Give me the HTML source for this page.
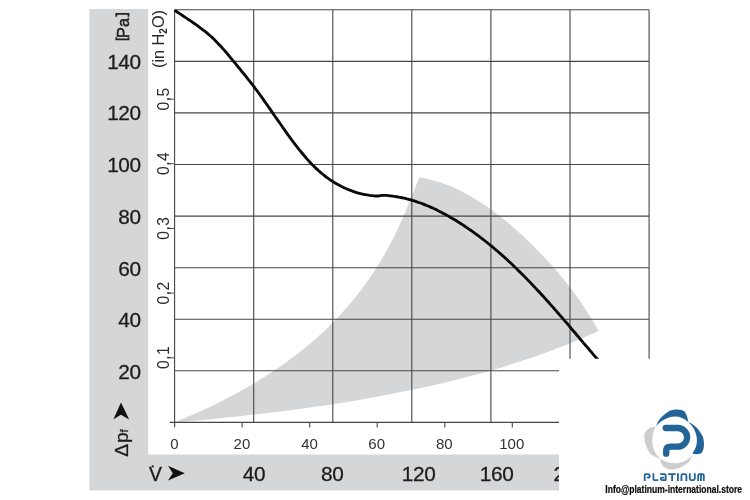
<!DOCTYPE html>
<html><head><meta charset="utf-8"><title>chart</title>
<style>
html,body{margin:0;padding:0;background:#fff;}
body{width:750px;height:500px;overflow:hidden;font-family:"Liberation Sans",sans-serif;}
svg{display:block;will-change:transform}
text{font-family:"Liberation Sans",sans-serif;}
</style></head><body>
<svg width="750" height="500" viewBox="0 0 750 500">
<rect width="750" height="500" fill="#fff"/>

<path d="M89.3,9.1 H148.2 V454.6 H559.0 V490.5 H89.3 Z" fill="#d5d6d8"/>
<path d="M174.8,422.4 C179.0,420.6 191.6,415.4 199.9,411.6 C208.3,407.8 216.6,403.8 224.8,399.6 C233.0,395.4 241.1,390.9 249.1,386.3 C257.1,381.6 265.0,376.7 272.7,371.6 C280.4,366.5 288.0,361.1 295.3,355.5 C302.6,349.9 309.7,344.1 316.6,338.0 C323.5,331.9 330.1,325.5 336.5,318.9 C342.8,312.3 348.9,305.4 354.6,298.3 C360.4,291.2 365.8,283.8 370.9,276.2 C376.1,268.6 380.9,260.8 385.4,252.8 C389.9,244.8 394.1,236.5 398.1,228.2 C402.0,219.9 405.6,211.3 409.1,202.8 C412.7,194.3 417.7,181.5 419.4,177.2 C421.7,177.7 428.8,179.1 433.4,180.4 C438.0,181.6 442.5,183.1 446.9,184.8 C451.3,186.5 455.6,188.4 459.8,190.5 C464.1,192.5 468.2,194.8 472.3,197.2 C476.4,199.5 480.4,202.1 484.3,204.8 C488.2,207.4 492.1,210.2 495.9,213.1 C499.7,216.0 503.4,219.0 507.1,222.1 C510.8,225.1 514.4,228.3 518.0,231.5 C521.5,234.7 525.1,237.9 528.5,241.3 C532.0,244.6 535.4,248.0 538.7,251.4 C542.1,254.8 545.4,258.3 548.6,261.8 C551.8,265.3 555.0,268.9 558.1,272.6 C561.2,276.2 564.2,279.9 567.1,283.7 C570.1,287.4 572.9,291.2 575.7,295.0 C578.5,298.9 581.2,302.8 583.9,306.7 C586.5,310.7 589.0,314.7 591.5,318.7 C593.9,322.8 597.4,329.0 598.6,331.0 C593.5,333.2 578.2,340.1 567.8,344.2 C557.4,348.4 547.0,352.3 536.5,356.0 C525.9,359.7 515.3,363.1 504.7,366.4 C494.0,369.6 483.3,372.7 472.5,375.5 C461.7,378.4 450.9,381.1 440.0,383.7 C429.1,386.2 418.2,388.6 407.2,390.8 C396.3,393.1 385.3,395.2 374.3,397.2 C363.3,399.2 352.3,401.1 341.2,402.9 C330.2,404.6 319.1,406.3 308.0,407.8 C296.9,409.4 285.8,410.8 274.7,412.2 C263.6,413.5 252.5,414.8 241.4,416.0 C230.3,417.2 219.2,418.3 208.1,419.4 C197.0,420.5 180.3,421.9 174.8,422.4Z" fill="#d5d6d8"/>
<path d="M174.6,9.8 V427.3 M253.7,9.8 V422.4 M332.8,9.8 V422.4 M411.8,9.8 V422.4 M490.9,9.8 V422.4 M570.0,9.8 V358.7 M649.1,9.8 V358.7 M174.6,9.8 H649.1 M174.6,61.4 H649.1 M174.6,112.9 H649.1 M174.6,164.5 H649.1 M174.6,216.1 H649.1 M174.6,267.7 H649.1 M174.6,319.2 H649.1 M174.6,370.8 H559.0 M169.6,422.4 H559.0 M242.1,422.4 V427.4 M309.7,422.4 V427.4 M377.2,422.4 V427.4 M444.8,422.4 V427.4 M512.3,422.4 V427.4" fill="none" stroke="#464646" stroke-width="1.1"/>
<path d="M167.4,357.8 H174.6 M167.4,293.1 H174.6 M167.4,228.5 H174.6 M167.4,163.8 H174.6 M167.4,99.2 H174.6" fill="none" stroke="#464646" stroke-width="0.9"/>
<text transform="translate(168.8,357.4) rotate(-90)" text-anchor="middle" letter-spacing="0.45" font-size="15.7" fill="#2a2a2a">0,1</text>
<text transform="translate(168.8,292.8) rotate(-90)" text-anchor="middle" letter-spacing="0.45" font-size="15.7" fill="#2a2a2a">0,2</text>
<text transform="translate(168.8,228.1) rotate(-90)" text-anchor="middle" letter-spacing="0.45" font-size="15.7" fill="#2a2a2a">0,3</text>
<text transform="translate(168.8,163.4) rotate(-90)" text-anchor="middle" letter-spacing="0.45" font-size="15.7" fill="#2a2a2a">0,4</text>
<text transform="translate(168.8,98.8) rotate(-90)" text-anchor="middle" letter-spacing="0.45" font-size="15.7" fill="#2a2a2a">0,5</text>
<clipPath id="cc"><rect x="0" y="0" width="750" height="358.7"/></clipPath>
<path clip-path="url(#cc)" d="M174.6,10.2 C175.2,10.6 176.9,11.7 178.0,12.5 C179.2,13.3 180.3,14.1 181.5,14.8 C182.6,15.6 183.8,16.4 184.9,17.1 C186.1,17.9 187.3,18.7 188.4,19.5 C189.6,20.3 190.7,21.0 191.9,21.8 C193.0,22.6 194.2,23.4 195.3,24.2 C196.4,25.0 197.6,25.8 198.7,26.7 C199.8,27.5 200.9,28.3 202.0,29.2 C203.2,30.0 204.2,30.9 205.3,31.7 C206.4,32.6 207.5,33.5 208.5,34.4 C209.6,35.3 210.6,36.2 211.7,37.1 C212.7,38.1 213.7,39.0 214.7,40.0 C215.7,41.0 216.6,41.9 217.6,42.9 C218.6,43.9 219.5,44.9 220.5,46.0 C221.4,47.0 222.3,48.0 223.2,49.1 C224.2,50.1 225.1,51.2 226.0,52.2 C226.9,53.3 227.8,54.3 228.7,55.4 C229.5,56.5 230.4,57.5 231.3,58.6 C232.2,59.7 233.1,60.8 234.0,61.8 C234.9,62.9 235.7,64.0 236.6,65.0 C237.5,66.1 238.4,67.2 239.3,68.3 C240.2,69.3 241.0,70.4 241.9,71.5 C242.8,72.6 243.7,73.6 244.5,74.7 C245.4,75.8 246.3,76.9 247.2,78.0 C248.0,79.1 248.9,80.1 249.7,81.2 C250.6,82.3 251.4,83.4 252.3,84.5 C253.1,85.6 254.0,86.7 254.8,87.8 C255.6,88.9 256.5,90.1 257.3,91.2 C258.1,92.3 258.9,93.4 259.8,94.5 C260.6,95.7 261.4,96.8 262.2,97.9 C263.0,99.0 263.8,100.2 264.6,101.3 C265.4,102.4 266.2,103.6 267.0,104.7 C267.8,105.9 268.6,107.0 269.4,108.1 C270.2,109.3 271.0,110.4 271.8,111.6 C272.5,112.7 273.3,113.8 274.1,115.0 C274.9,116.1 275.7,117.3 276.5,118.4 C277.3,119.6 278.1,120.7 278.9,121.8 C279.7,123.0 280.5,124.1 281.3,125.3 C282.0,126.4 282.8,127.5 283.6,128.7 C284.4,129.8 285.2,130.9 286.1,132.1 C286.9,133.2 287.7,134.3 288.5,135.5 C289.3,136.6 290.1,137.7 290.9,138.8 C291.8,139.9 292.6,141.1 293.4,142.2 C294.3,143.3 295.1,144.4 296.0,145.5 C296.8,146.6 297.7,147.7 298.5,148.8 C299.4,149.9 300.2,150.9 301.1,152.0 C302.0,153.1 302.9,154.2 303.8,155.2 C304.7,156.3 305.6,157.3 306.5,158.4 C307.4,159.4 308.3,160.5 309.3,161.5 C310.2,162.5 311.2,163.5 312.1,164.5 C313.1,165.5 314.1,166.5 315.1,167.4 C316.1,168.4 317.1,169.3 318.1,170.3 C319.1,171.2 320.2,172.1 321.2,173.0 C322.3,173.9 323.4,174.8 324.5,175.6 C325.5,176.5 326.7,177.3 327.8,178.1 C328.9,178.9 330.1,179.7 331.2,180.5 C332.4,181.3 333.6,182.0 334.7,182.7 C335.9,183.4 337.1,184.1 338.4,184.8 C339.6,185.5 340.8,186.1 342.0,186.8 C343.3,187.4 344.5,188.0 345.8,188.5 C347.1,189.1 348.4,189.7 349.7,190.2 C351.0,190.7 352.3,191.2 353.6,191.6 C354.9,192.1 356.2,192.5 357.5,192.9 C358.9,193.3 360.2,193.6 361.6,193.9 C362.9,194.2 364.3,194.4 365.7,194.7 C367.0,194.9 368.4,195.1 369.8,195.3 C371.2,195.5 372.6,195.7 373.9,195.8 C375.3,195.9 376.7,196.0 378.1,196.0 C379.5,195.9 380.8,195.5 382.2,195.4 C383.6,195.3 385.0,195.3 386.4,195.4 C387.8,195.5 389.1,195.7 390.5,195.8 C391.9,196.0 393.3,196.2 394.6,196.4 C396.0,196.6 397.4,196.9 398.8,197.1 C400.1,197.4 401.5,197.6 402.8,197.9 C404.2,198.2 405.6,198.5 406.9,198.9 C408.2,199.2 409.6,199.6 410.9,199.9 C412.3,200.3 413.6,200.7 414.9,201.1 C416.2,201.6 417.6,202.0 418.9,202.5 C420.2,202.9 421.5,203.4 422.8,203.9 C424.1,204.4 425.4,204.9 426.7,205.5 C428.0,206.0 429.2,206.5 430.5,207.1 C431.8,207.7 433.1,208.2 434.3,208.8 C435.6,209.4 436.9,210.0 438.1,210.7 C439.4,211.3 440.6,211.9 441.8,212.6 C443.1,213.2 444.3,213.9 445.5,214.5 C446.8,215.2 448.0,215.9 449.2,216.6 C450.4,217.3 451.6,218.0 452.8,218.7 C454.0,219.4 455.2,220.1 456.4,220.8 C457.6,221.6 458.7,222.3 459.9,223.0 C461.1,223.8 462.3,224.5 463.4,225.3 C464.6,226.1 465.7,226.8 466.9,227.6 C468.0,228.4 469.2,229.2 470.3,230.0 C471.4,230.8 472.6,231.6 473.7,232.4 C474.8,233.2 475.9,234.0 477.1,234.8 C478.2,235.7 479.3,236.5 480.4,237.3 C481.5,238.2 482.6,239.0 483.7,239.9 C484.8,240.7 485.9,241.6 486.9,242.4 C488.0,243.3 489.1,244.2 490.2,245.1 C491.2,245.9 492.3,246.8 493.4,247.7 C494.4,248.6 495.5,249.5 496.5,250.4 C497.6,251.3 498.6,252.2 499.7,253.1 C500.7,254.0 501.7,254.9 502.8,255.9 C503.8,256.8 504.8,257.7 505.9,258.6 C506.9,259.6 507.9,260.5 508.9,261.4 C509.9,262.4 510.9,263.3 512.0,264.3 C513.0,265.2 514.0,266.2 515.0,267.2 C516.0,268.1 517.0,269.1 517.9,270.1 C518.9,271.0 519.9,272.0 520.9,273.0 C521.9,274.0 522.9,274.9 523.9,275.9 C524.8,276.9 525.8,277.9 526.8,278.9 C527.7,279.9 528.7,280.9 529.7,281.9 C530.6,282.9 531.6,283.9 532.6,284.9 C533.5,285.9 534.5,286.9 535.4,287.9 C536.4,288.9 537.3,290.0 538.3,291.0 C539.2,292.0 540.2,293.0 541.1,294.0 C542.0,295.1 543.0,296.1 543.9,297.1 C544.9,298.2 545.8,299.2 546.7,300.2 C547.7,301.3 548.6,302.3 549.5,303.3 C550.4,304.4 551.4,305.4 552.3,306.5 C553.2,307.5 554.1,308.6 555.0,309.6 C556.0,310.7 556.9,311.7 557.8,312.8 C558.7,313.8 559.6,314.9 560.5,315.9 C561.5,317.0 562.4,318.0 563.3,319.1 C564.2,320.1 565.1,321.2 566.0,322.2 C566.9,323.3 567.8,324.4 568.7,325.4 C569.6,326.5 570.5,327.5 571.4,328.6 C572.3,329.7 573.2,330.7 574.1,331.8 C575.0,332.8 575.9,333.9 576.8,335.0 C577.7,336.0 578.6,337.1 579.5,338.2 C580.4,339.2 581.3,340.3 582.2,341.3 C583.1,342.4 584.0,343.5 584.9,344.5 C585.8,345.6 586.7,346.6 587.6,347.7 C588.5,348.8 589.4,349.8 590.3,350.9 C591.2,351.9 592.1,353.0 593.0,354.1 C593.9,355.1 594.8,356.2 595.7,357.2 C596.6,358.3 597.5,359.3 598.4,360.4 C599.3,361.4 600.2,362.5 601.1,363.5 C602.0,364.6 602.9,365.6 603.8,366.7 C604.7,367.7 606.0,369.3 606.5,369.8" fill="none" stroke="#0a0a0a" stroke-width="2.85" stroke-linejoin="round"/>
<text x="140.8" y="68.8" text-anchor="end" letter-spacing="-0.35" font-size="20.8" fill="#1c1c1c" stroke="#1c1c1c" stroke-width="0.3">140</text>
<text x="140.8" y="120.4" text-anchor="end" letter-spacing="-0.35" font-size="20.8" fill="#1c1c1c" stroke="#1c1c1c" stroke-width="0.3">120</text>
<text x="140.8" y="172.1" text-anchor="end" letter-spacing="-0.35" font-size="20.8" fill="#1c1c1c" stroke="#1c1c1c" stroke-width="0.3">100</text>
<text x="140.8" y="223.8" text-anchor="end" letter-spacing="-0.35" font-size="20.8" fill="#1c1c1c" stroke="#1c1c1c" stroke-width="0.3">80</text>
<text x="140.8" y="275.5" text-anchor="end" letter-spacing="-0.35" font-size="20.8" fill="#1c1c1c" stroke="#1c1c1c" stroke-width="0.3">60</text>
<text x="140.8" y="327.2" text-anchor="end" letter-spacing="-0.35" font-size="20.8" fill="#1c1c1c" stroke="#1c1c1c" stroke-width="0.3">40</text>
<text x="140.8" y="378.9" text-anchor="end" letter-spacing="-0.35" font-size="20.8" fill="#1c1c1c" stroke="#1c1c1c" stroke-width="0.3">20</text>
<text x="174.4" y="449" text-anchor="middle" font-size="15" fill="#333">0</text>
<text x="241.9" y="449" text-anchor="middle" font-size="15" fill="#333">20</text>
<text x="309.5" y="449" text-anchor="middle" font-size="15" fill="#333">40</text>
<text x="376.7" y="449" text-anchor="middle" font-size="15" fill="#333">60</text>
<text x="444.3" y="449" text-anchor="middle" font-size="15" fill="#333">80</text>
<text x="511.8" y="449" text-anchor="middle" font-size="15" fill="#333">100</text>
<text x="253.9" y="480.6" text-anchor="middle" letter-spacing="-0.35" font-size="20.8" fill="#1c1c1c" stroke="#1c1c1c" stroke-width="0.3">40</text>
<text x="332.3" y="480.6" text-anchor="middle" letter-spacing="-0.35" font-size="20.8" fill="#1c1c1c" stroke="#1c1c1c" stroke-width="0.3">80</text>
<text x="418.6" y="480.6" text-anchor="middle" letter-spacing="-0.35" font-size="20.8" fill="#1c1c1c" stroke="#1c1c1c" stroke-width="0.3">120</text>
<text x="496.6" y="480.6" text-anchor="middle" letter-spacing="-0.35" font-size="20.8" fill="#1c1c1c" stroke="#1c1c1c" stroke-width="0.3">160</text>
<clipPath id="c2"><rect x="0" y="455" width="559.0" height="40"/></clipPath>
<text clip-path="url(#c2)" x="570.3" y="480.6" text-anchor="middle" letter-spacing="-0.35" font-size="20.8" fill="#1c1c1c" stroke="#1c1c1c" stroke-width="0.3">200</text>
<text transform="translate(128.8,37.9) rotate(-90)" font-size="16.2" stroke="#222" stroke-width="0.5" fill="#222">Pa</text>
<path d="M116.3,37.3 V39.3 H128.5 V37.3 M116.3,16.7 V13.9 H128.5 V16.7" fill="none" stroke="#222" stroke-width="1.8"/>
<text transform="translate(164.2,39) rotate(-90)" text-anchor="middle" font-size="16.3" fill="#2a2a2a">(in H<tspan font-size="10" font-weight="bold" dy="2.4">2</tspan><tspan dy="-2.4">O)</tspan></text>
<text transform="translate(128.3,456.8) rotate(-90)" font-size="19.2" fill="#1c1c1c" stroke="#1c1c1c" stroke-width="0.3"><tspan x="0">Δ</tspan><tspan x="13.7">p</tspan><tspan x="24.3" font-size="11.8">f</tspan></text>
<path d="M121,402.4 L129.2,419.6 L121,414.7 L113.4,419.3 Z" fill="#111"/>
<text x="148.9" y="480.6" font-size="19.4" fill="#1c1c1c" stroke="#1c1c1c" stroke-width="0.3">V</text>
<circle cx="152.7" cy="466.4" r="1.15" fill="#1c1c1c"/>
<path d="M184.8,473.2 L168,465.8 L172.8,473.2 L168,480.6 Z" fill="#111"/>
<path d="M656.3,425.9 C658,420 663,414.6 669.8,410.8 C676,408.5 682,409.5 684.6,411.6 C686.6,414 687.6,418.4 688.5,422.3 C679,413 666,415.6 656.3,425.9 Z" fill="#226398"/>
<path d="M688.5,422.3 C694,424 699.5,430 702.9,436.7 C704.5,443 704.6,449 701.4,453.2 C698,454.6 694.5,454.4 692.3,453.6 C699.5,445 698.5,431 688.5,422.3 Z" fill="#226398"/>
<path d="M655.6,426.4 C650.6,426.8 646.7,429 644.5,433.8 C643.6,440.5 646,447.5 650,453.2 C653,456 657,458 660.2,458.8 C650.5,450 650.5,436 655.6,426.4 Z" fill="#cbcdcf"/>
<path d="M660.2,458.8 C660.3,463.6 663,467.4 668.8,469.4 C676.5,470 683.2,467 689,461.7 C690.8,459.5 691.8,457.5 692.3,455.4 C683,465 669.5,465.5 660.2,458.8 Z" fill="#cbcdcf"/>
<path d="M665.7,428 H677.7 A9.4,9.35 0 0 1 677.7,446.7 H670.5 Q666.2,446.7 666.2,451 V453.7" fill="none" stroke="#226398" stroke-width="6.3" stroke-linecap="round"/>
<path d="M644.7,481.0 V475.3 Q644.7,474.2 645.8,474.2 H648 A1.7,1.7 0 0 1 648,477.59999999999997 H646.9 M653.4,473.3 V479.0 Q653.4,480.1 654.5,480.1 H658.2 M660.2,474.2 H664.4 Q665.7,474.2 665.7,475.5 V480.1 H662 Q660.7,480.1 660.7,478.85 Q660.7,477.6 662,477.6 H664.2 M668.1,474.2 H675.8 M672.1,474.2 V481.0 M677.9,473.3 V481.0 M681.4,481.0 V475.7 Q681.4,474.2 682.9,474.2 H684.9 Q686.4,474.2 686.4,475.7 V481.0 M689.8,473.3 V478.6 Q689.8,480.1 691.3,480.1 H693.3 Q694.8,480.1 694.8,478.6 V473.3 M698.2,481.0 V475.5 Q698.2,474.2 699.5,474.2 H702.5 Q703.8,474.2 703.8,475.5 V481.0 M701,474.2 V481.0" fill="none" stroke="#226398" stroke-width="1.8" stroke-linecap="butt" stroke-linejoin="round"/>
<text x="605.3" y="493.4" font-size="10.2" font-weight="bold" fill="#0a0a0a" stroke="#0a0a0a" stroke-width="0.2" textLength="136.8" lengthAdjust="spacingAndGlyphs">Info@platinum-international.store</text>
</svg></body></html>
